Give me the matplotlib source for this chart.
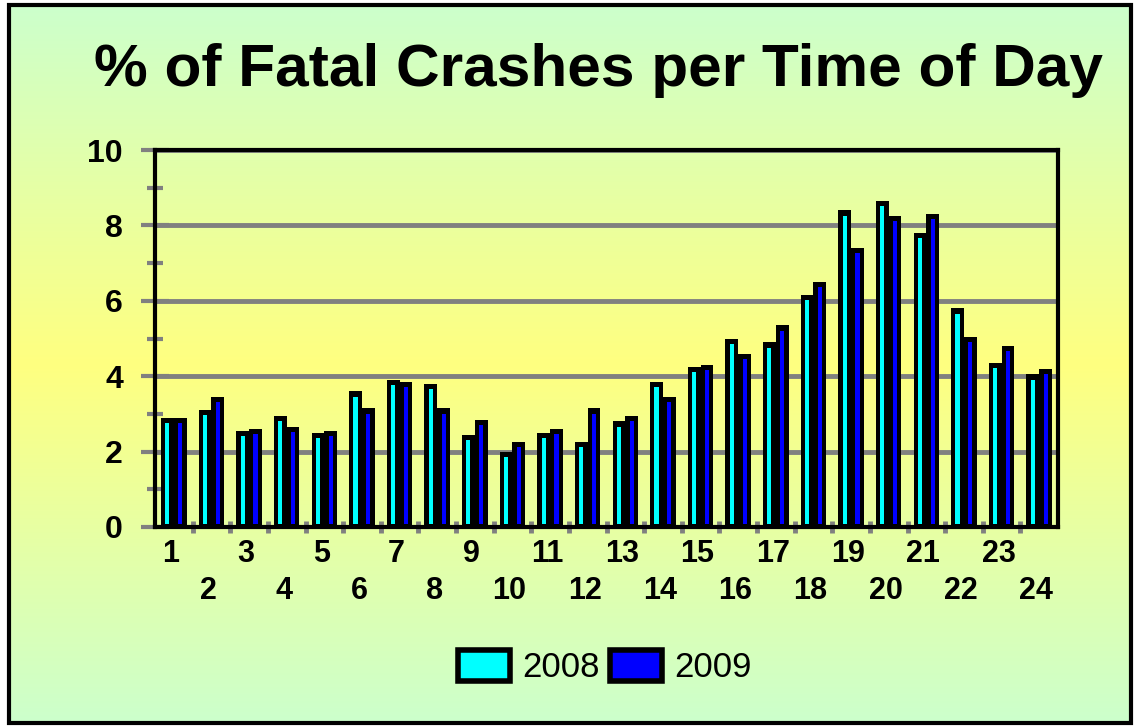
import numpy as np
import matplotlib
matplotlib.use("Agg")
from matplotlib import pyplot as plt
from matplotlib.colors import LinearSegmentedColormap
from matplotlib.patches import Patch, Rectangle

hours = list(range(1, 25))
pct_2008 = [2.9, 3.1, 2.55, 2.95, 2.5, 3.6, 3.9, 3.8, 2.45, 2.0, 2.5, 2.25,
            2.8, 3.85, 4.25, 5.0, 4.9, 6.15, 8.4, 8.65, 7.8, 5.8, 4.35, 4.05]
pct_2009 = [2.9, 3.45, 2.6, 2.65, 2.55, 3.15, 3.85, 3.15, 2.85, 2.25, 2.6, 3.15,
            2.95, 3.45, 4.3, 4.6, 5.35, 6.5, 7.4, 8.25, 8.3, 5.05, 4.8, 4.2]
years = ["2008", "2009"]
colors = ["#00ffff", "#0000ff"]

plt.rcParams['font.family'] = ['Liberation Sans', 'DejaVu Sans']

fig = plt.figure(figsize=(11.35, 7.27), dpi=100)

# gradient background inside the frame
bg = fig.add_axes([9/1135, 4/727, 1122/1135, 718/727], zorder=-10)
cmap = LinearSegmentedColormap.from_list("bg", [(0, "#ccffcc"), (0.5, "#ffff80"), (1, "#ccffcc")])
grad = np.linspace(0, 1, 256).reshape(-1, 1)
bg.imshow(grad, aspect='auto', cmap=cmap, extent=[0, 1, 0, 1])
bg.set_axis_off()
fig.patches.append(Rectangle((9/1135, 4/727), 1122/1135, 718/727, transform=fig.transFigure,
                             fill=False, edgecolor='black', linewidth=3, zorder=5))

ax = fig.add_axes([155/1135, 1 - 527/727, 903/1135, 377/727])
ax.set_facecolor('none')

x = np.arange(len(hours))
w = 0.34
for i, (vals, c) in enumerate(zip([pct_2008, pct_2009], colors)):
    vals = np.array(vals)
    pos = x + (i - 0.5) * w
    ax.bar(pos, vals, width=w, color='black', zorder=3)
    ax.bar(pos, vals - 0.22, bottom=0.08, width=w * 0.32, color=c, zorder=4)

ax.set_xlim(-0.5, len(hours) - 0.5)
ax.set_ylim(0, 10)
ax.set_yticks(range(0, 11, 2))
ax.set_yticks(range(1, 10, 2), minor=True)
ax.yaxis.grid(True, color='#808080', linewidth=3.5, zorder=1)
ax.set_axisbelow(True)

ax.tick_params(axis='y', which='major', direction='inout', length=20, width=3,
               color='#808080', labelsize=23, pad=13)
ax.tick_params(axis='y', which='minor', direction='inout', length=12, width=3,
               color='#808080')
for lab in ax.get_yticklabels():
    lab.set_fontweight('bold')

ax.set_xticks(x - 0.08)
ax.set_xticklabels([str(h) if h % 2 else "\n" + str(h) for h in hours],
                   fontsize=22, fontweight='bold', linespacing=1.3)
ax.set_xticks(np.arange(0.5, len(hours) - 1, 1), minor=True)
ax.tick_params(axis='x', which='major', length=0, pad=9)
ax.tick_params(axis='x', which='minor', direction='inout', length=9, width=3.5,
               color='#808080')

for s in ax.spines.values():
    s.set_linewidth(3)
    s.set_color('black')
    s.set_zorder(5)

fig.text(0.527, 1 - 70/727, "% of Fatal Crashes per Time of Day", ha='center', va='center',
         fontsize=43.5, fontweight='bold')

handles = [Patch(facecolor=c, edgecolor='black', linewidth=4) for c in colors]
fig.legend(handles, years, loc='center', bbox_to_anchor=(605/1135, 1 - 667/727), ncol=2,
           frameon=False, fontsize=25, handlelength=1.5, handleheight=1.0,
           handletextpad=0.35, columnspacing=0.3)

fig.savefig("out.png", dpi=100)
